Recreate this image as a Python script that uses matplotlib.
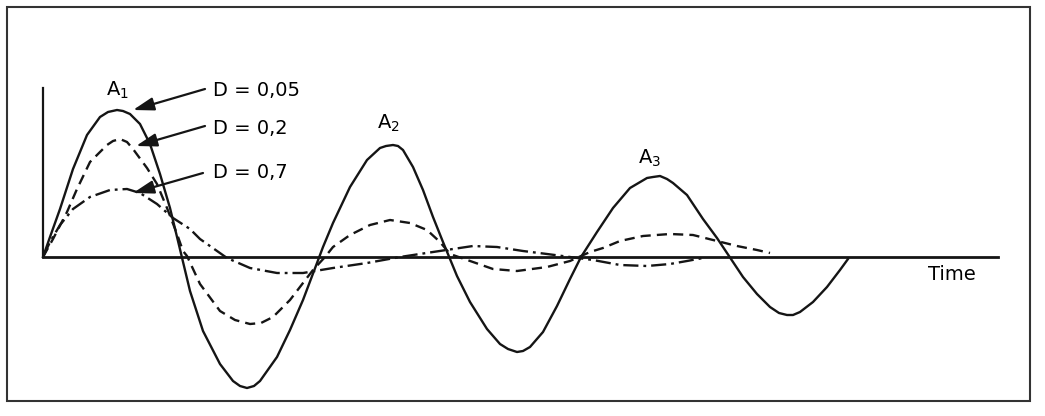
import matplotlib
matplotlib.use("Agg")
import matplotlib.pyplot as plt
from matplotlib.patches import Rectangle

plt.rcParams['font.family'] = ['DejaVu Sans']
plt.rcParams['mathtext.default'] = 'regular'

# step responses (time, amplitude in arbitrary units)
t_005 = [0, 7, 17, 30, 44, 57, 65, 74, 80, 87, 97, 107, 117, 127, 135,
         147, 160, 177, 190, 197, 204, 211, 217, 234, 247, 260, 274, 280, 290,
         307, 324, 337, 343, 350, 355, 360, 370, 380, 390, 400, 414, 427,
         444, 457, 465, 474, 480, 487, 500, 514, 527, 538, 554, 570, 587, 604,
         610, 617, 624, 630, 644, 660, 674, 684, 692, 700, 714, 727, 736, 744,
         750, 757, 770, 784, 797, 805]
y_005 = [0, 20, 48, 88, 122, 140, 145, 147, 146, 143, 133, 113, 83, 49, 16,
         -34, -74, -107, -124, -129, -131, -129, -124, -100, -73, -43, -6, 10, 34,
         70, 97, 109, 111, 112, 111, 107, 90, 67, 40, 15, -19, -45,
         -72, -87, -92, -95, -94, -90, -75, -49, -22, 0, 25, 49, 69, 79,
         80, 81, 78, 74, 62, 38, 19, 4, -8, -20, -37, -50, -56, -58,
         -58, -55, -45, -30, -13, -2]

t_02 = [0, 10, 24, 34, 47, 64, 70, 77, 84, 90, 104, 114, 124, 134, 140, 144,
        157, 177, 192, 207, 218, 230, 247, 260, 270, 282, 290, 307, 327, 347,
        367, 384, 397, 407, 430, 450, 474, 504, 527, 547, 560, 577, 600, 627,
        650, 670, 694, 714, 727]
y_02 = [0, 18, 45, 68, 95, 112, 116, 118, 115, 108, 89, 73, 49, 23, 6, 1,
        -27, -54, -63, -67, -66, -60, -43, -26, -13, 0, 10, 22, 32, 37,
        34, 27, 15, 3, -5, -12, -14, -10, -4, 5, 9, 16, 21, 23,
        22, 17, 11, 7, 4]

t_07 = [0, 7, 17, 30, 47, 67, 84, 97, 114, 130, 147, 157, 184, 207, 234, 260,
        290, 324, 357, 390, 430, 454, 480, 504, 527, 550, 577, 604, 627, 644, 660]
y_07 = [0, 15, 32, 48, 60, 67, 68, 64, 53, 39, 28, 18, -1, -11, -16, -16,
        -11, -6, 0, 5, 11, 10, 6, 3, 0, -3, -8, -9, -7, -4, -1]

labels = ['D = 0,05', 'D = 0,2', 'D = 0,7']
peaks = ['A$_1$', 'A$_2$', 'A$_3$']

ink = '#151515'

fig = plt.figure(figsize=(10.45, 4.16), dpi=100)
ax = fig.add_axes([0, 0, 1, 1])
ax.set_xlim(-43, 1002)
ax.set_ylim(-159, 257)
ax.axis('off')

# frame round the whole picture
fig.patches.append(Rectangle((7 / 1045, 15 / 416), 1023 / 1045, 394 / 416,
                             transform=fig.transFigure, fill=False,
                             edgecolor='#333333', lw=1.5))

# axes lines
ax.plot([0, 0], [0, 169], color=ink, lw=1.6)
ax.plot([0, 955], [0, 0], color=ink, lw=2.0)

ax.plot(t_005, y_005, color=ink, lw=1.7)
ax.plot(t_02, y_02, color=ink, lw=1.7, linestyle=(0, (4.3, 2.6)))
ax.plot(t_07, y_07, color=ink, lw=1.7, linestyle=(0, (6.4, 2.1, 1.2, 2.1)))

# labels with arrows
label_pos = [(170, 167), (170, 129), (170, 84)]
arrow_tips = [(90, 147), (93, 111), (90, 64)]
arrow_tails = [(162, 168), (162, 131), (160, 84)]
for lab, pos, tip, tail in zip(labels, label_pos, arrow_tips, arrow_tails):
    ax.text(pos[0], pos[1], lab, fontsize=14, ha='left', va='center', color='black')
    ax.annotate('', xy=tip, xytext=tail,
                arrowprops=dict(arrowstyle='-|>,head_length=0.7,head_width=0.22',
                                mutation_scale=18, lw=1.6, color=ink,
                                shrinkA=0, shrinkB=0))

peak_pos = [(74, 167), (345, 134), (607, 99)]
for lab, pos in zip(peaks, peak_pos):
    ax.text(pos[0], pos[1], lab, fontsize=14, ha='center', va='center', color='black')

ax.text(909, -18, 'Time', fontsize=14, ha='center', va='center', color='black')

fig.savefig('out.png', dpi=100, facecolor='white')
